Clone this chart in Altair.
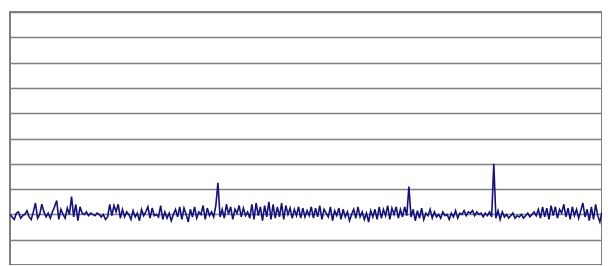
import altair as alt
import pandas as pd

seg1 = [2.0, 1.9, 1.8, 2.05, 2.1, 1.85, 1.95, 2.0, 2.15, 1.9,
        1.8, 2.1, 2.45, 1.85, 2.0, 2.4, 2.1, 1.9, 2.05, 1.85,
        2.1, 2.3, 2.55, 1.8, 2.2, 2.0, 1.85, 2.25, 2.0, 2.7,
        1.9, 2.4, 1.75, 2.3, 2.05, 2.0, 2.1, 1.95, 2.05, 2.0,
        1.95, 2.05, 2.0, 1.9, 2.0, 1.8, 1.9, 2.4, 1.95, 2.35,
        2.1, 2.4, 1.85, 2.2, 1.9, 2.1]
seg2 = [2.0, 1.8, 2.15, 1.9, 2.05, 1.75, 2.2, 1.95, 2.1, 2.3,
        1.85, 2.25, 1.95, 2.0, 1.9, 2.35, 1.8, 2.1, 1.85, 2.05,
        1.75, 2.0, 2.2, 1.9, 2.3, 1.8, 2.25, 2.0, 1.7, 2.2,
        1.9, 2.3, 1.85, 2.1, 2.0, 2.35, 1.8, 2.25, 1.95, 2.1,
        1.9, 2.35, 3.25, 1.9, 2.2, 1.85, 2.4, 2.0, 2.3, 1.8,
        2.2, 2.05, 2.35, 1.9, 2.25, 1.95]
seg3 = [2.1, 1.85, 2.4, 1.8, 2.45, 1.95, 2.3, 1.75, 2.35, 1.9,
        2.5, 1.8, 2.4, 1.85, 2.3, 1.9, 2.45, 1.8, 2.35, 2.0,
        2.25, 1.85, 2.2, 1.95, 2.3, 1.85, 2.25, 1.9, 2.15, 1.95,
        2.3, 1.85, 2.25, 1.9, 2.35, 1.8, 2.2, 2.05, 1.9, 2.3,
        1.75, 2.15, 1.95, 2.25, 1.8, 2.2, 1.9, 2.1, 1.75, 2.0,
        2.2, 1.85, 2.3, 1.9, 2.1, 1.8]
seg4 = [2.05, 1.7, 2.15, 1.9, 2.2, 1.8, 2.3, 1.85, 2.2, 1.95,
        2.35, 1.8, 2.25, 2.0, 2.3, 1.85, 2.2, 1.9, 2.3, 1.95,
        3.1, 1.9, 2.2, 1.75, 2.15, 1.85, 2.25, 1.8, 2.05, 1.95,
        2.2, 1.85, 2.1, 1.9, 2.0, 1.85, 2.1, 1.95, 2.0, 1.8,
        2.05, 1.9, 2.15, 1.85, 2.05, 2.0, 2.15, 1.95, 2.1, 2.05,
        2.15, 1.95, 2.1, 2.0, 2.05, 1.9]
seg5 = [2.05, 1.95, 2.1, 1.9, 4.0, 1.85, 2.15, 1.8, 2.1, 1.9,
        2.0, 1.85, 1.95, 2.05, 1.85, 1.95, 1.9, 2.0, 1.85, 1.95,
        2.05, 1.9, 2.0, 2.1, 1.95, 2.2, 1.85, 2.3, 1.9, 2.25,
        1.8, 2.35, 1.95, 2.3, 1.85, 2.2, 2.05, 2.4, 1.9, 2.25,
        1.8, 2.3, 1.95, 2.2, 1.85, 2.15, 2.45, 1.9, 2.2, 1.75,
        2.3, 1.8, 2.4, 1.95, 1.7, 2.1]

values = seg1 + seg2 + seg3 + seg4 + seg5
grid_values = list(range(0, 11))

df = pd.DataFrame({"i": list(range(len(values))), "v": values})

chart = alt.Chart(df).mark_line(color="#12127f", strokeWidth=1.6).encode(
    x=alt.X("i:Q", scale=alt.Scale(domain=[0, len(values) - 1], nice=False, zero=False),
            axis=alt.Axis(labels=False, ticks=False, domain=False, grid=False, title=None)),
    y=alt.Y("v:Q", scale=alt.Scale(domain=[0, 10], nice=False),
            axis=alt.Axis(values=grid_values, labels=False, ticks=False, domain=False, grid=True,
                          gridColor="#808080", gridWidth=1.3, title=None)),
).properties(
    width=592, height=253,
    padding={"left": 2, "top": 4, "right": 0, "bottom": 0},
    autosize=alt.AutoSizeParams(type="none"),
).configure_view(stroke="#555555", strokeWidth=1.5)

chart.save("out.html", embed_options={"renderer": "svg", "actions": False})
